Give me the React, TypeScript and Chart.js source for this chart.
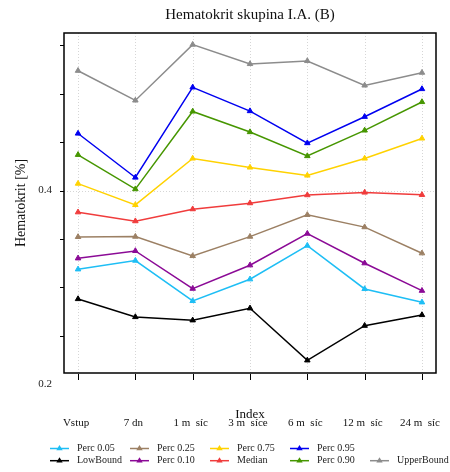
import React, { useEffect, useRef } from "react";
import { Chart, registerables } from "chart.js";

Chart.register(...registerables);

const categories = ["Vstup", "7 dn", "1 m  síc", "3 m  síce", "6 m  síc", "12 m  síc", "24 m  síc"];

const lowBound = [0.2879, 0.2693, 0.2659, 0.2783, 0.2245, 0.2603, 0.2714];
const perc05 = [0.3186, 0.3276, 0.2859, 0.3083, 0.3431, 0.2983, 0.2845];
const perc10 = [0.33, 0.3376, 0.2986, 0.3228, 0.3555, 0.3249, 0.2965];
const perc25 = [0.3521, 0.3524, 0.3324, 0.3524, 0.3749, 0.3622, 0.3352];
const median = [0.3776, 0.3684, 0.3808, 0.387, 0.3953, 0.398, 0.3956];
const perc75 = [0.4072, 0.3852, 0.4332, 0.4239, 0.4156, 0.4332, 0.4539];
const perc90 = [0.437, 0.4015, 0.4818, 0.4605, 0.4357, 0.4622, 0.4916];
const perc95 = [0.459, 0.4135, 0.5067, 0.4822, 0.4491, 0.4763, 0.505];
const upperBound = [0.5239, 0.4932, 0.5509, 0.5309, 0.534, 0.5087, 0.5219];

const yTicks = [0.25, 0.3, 0.35, 0.4, 0.45, 0.5, 0.55];
const yLabelTicks = [0.4, 0.2];

const seriesList = [
  { label: "LowBound", data: lowBound, color: "#000000" },
  { label: "Perc 0.05", data: perc05, color: "#1EBEF5" },
  { label: "Perc 0.10", data: perc10, color: "#8B0A96" },
  { label: "Perc 0.25", data: perc25, color: "#9C8064" },
  { label: "Median", data: median, color: "#F03C3C" },
  { label: "Perc 0.75", data: perc75, color: "#FFD200" },
  { label: "Perc 0.90", data: perc90, color: "#469600" },
  { label: "Perc 0.95", data: perc95, color: "#0000F0" },
  { label: "UpperBound", data: upperBound, color: "#8C8C8C" },
];

const legendRows = [
  ["Perc 0.05", "Perc 0.25", "Perc 0.75", "Perc 0.95"],
  ["LowBound", "Perc 0.10", "Median", "Perc 0.90", "UpperBound"],
];

const FONT = '"Liberation Serif", "Times New Roman", serif';

const decorPlugin = {
  id: "decor",
  beforeDatasetsDraw(chart: any) {
    const { ctx, chartArea, scales } = chart;
    const { left, right, top, bottom } = chartArea;
    const x = scales.x;
    const y = scales.y;
    ctx.save();
    ctx.strokeStyle = "#d6d6d6";
    ctx.lineWidth = 1;
    ctx.setLineDash([1, 2]);
    categories.forEach((_, i) => {
      const px = Math.round(x.getPixelForValue(i)) + 0.5;
      ctx.beginPath();
      ctx.moveTo(px, top);
      ctx.lineTo(px, bottom);
      ctx.stroke();
    });
    yLabelTicks.forEach((v) => {
      const py = y.getPixelForValue(v);
      if (py >= top && py <= bottom) {
        const p = Math.round(py) + 0.5;
        ctx.beginPath();
        ctx.moveTo(left, p);
        ctx.lineTo(right, p);
        ctx.stroke();
      }
    });
    ctx.restore();
  },
  afterDraw(chart: any) {
    const { ctx, chartArea, scales } = chart;
    const { left, right, top, bottom } = chartArea;
    const x = scales.x;
    const y = scales.y;
    ctx.save();
    ctx.setLineDash([]);
    // frame
    ctx.strokeStyle = "#000";
    ctx.lineWidth = 1.5;
    ctx.strokeRect(left, top, right - left, bottom - top);
    // y tick marks
    ctx.lineWidth = 1;
    yTicks.concat(yLabelTicks).forEach((v) => {
      const py = y.getPixelForValue(v);
      if (py >= top && py <= bottom) {
        const p = Math.round(py) + 0.5;
        ctx.beginPath();
        ctx.moveTo(left - 4, p);
        ctx.lineTo(left, p);
        ctx.stroke();
      }
    });
    // x tick marks
    categories.forEach((_, i) => {
      const px = Math.round(x.getPixelForValue(i)) + 0.5;
      ctx.beginPath();
      ctx.moveTo(px, bottom + 1);
      ctx.lineTo(px, bottom + 7);
      ctx.stroke();
    });
    // y tick labels
    ctx.fillStyle = "#222";
    ctx.font = `11px ${FONT}`;
    ctx.textAlign = "right";
    ctx.textBaseline = "middle";
    yLabelTicks.forEach((v) => {
      ctx.fillText(String(v), left - 12, y.getPixelForValue(v));
    });
    // x title
    ctx.fillStyle = "#111";
    ctx.font = `13px ${FONT}`;
    ctx.textAlign = "center";
    ctx.fillText("Index", (left + right) / 2, 415);
    // x tick labels
    ctx.font = `11px ${FONT}`;
    categories.forEach((c, i) => {
      ctx.fillText(c, x.getPixelForValue(i) - 2, 423);
    });
    // title
    ctx.font = `15px ${FONT}`;
    ctx.fillText("Hematokrit skupina I.A. (B)", (left + right) / 2, 15);
    // y title
    ctx.save();
    ctx.font = `14px ${FONT}`;
    ctx.translate(21, (top + bottom) / 2);
    ctx.rotate(-Math.PI / 2);
    ctx.fillText("Hematokrit [%]", 0, 0);
    ctx.restore();
    // legend
    ctx.font = `10px ${FONT}`;
    ctx.textAlign = "left";
    legendRows.forEach((row, r) => {
      const ly = 448.5 + r * 12.2;
      row.forEach((name, c) => {
        const s = seriesList.find((d) => d.label === name)!;
        const lx = 50 + c * 80;
        ctx.strokeStyle = s.color;
        ctx.fillStyle = s.color;
        ctx.lineWidth = 1.5;
        ctx.beginPath();
        ctx.moveTo(lx, ly);
        ctx.lineTo(lx + 19, ly);
        ctx.stroke();
        const cx = lx + 9.5;
        ctx.beginPath();
        ctx.moveTo(cx, ly - 3.5);
        ctx.lineTo(cx + 3.2, ly + 1.8);
        ctx.lineTo(cx - 3.2, ly + 1.8);
        ctx.closePath();
        ctx.fill();
        ctx.fillStyle = "#222";
        ctx.fillText(name, lx + 27, ly);
      });
    });
    ctx.restore();
  },
};

export default function App() {
  const ref = useRef<HTMLCanvasElement | null>(null);
  useEffect(() => {
    if (!ref.current) return;
    const chart = new Chart(ref.current, {
      type: "line",
      data: {
        datasets: seriesList.map((s) => ({
          label: s.label,
          data: s.data.map((v, i) => ({ x: i, y: v })),
          borderColor: s.color,
          backgroundColor: s.color,
          pointBackgroundColor: s.color,
          pointBorderColor: s.color,
          pointStyle: "triangle",
          pointRadius: 3.2,
          pointBorderWidth: 1,
          borderWidth: 1.5,
          tension: 0,
          fill: false,
        })),
      },
      options: {
        animation: false,
        responsive: false,
        layout: { padding: { left: 64, right: 14, top: 33, bottom: 99 } },
        plugins: {
          legend: { display: false },
          title: { display: false },
          tooltip: { enabled: false },
        },
        scales: {
          x: { type: "linear", display: false, min: -0.245, max: 6.245 },
          y: { type: "linear", display: false, min: 0.2114, max: 0.5629 },
        },
      },
      plugins: [decorPlugin],
    });
    return () => chart.destroy();
  }, []);
  return (
    <div style={{ position: "absolute", left: 0, top: 0, width: 450, height: 472, background: "#fff" }}>
      <canvas ref={ref} width={450} height={472} />
    </div>
  );
}
